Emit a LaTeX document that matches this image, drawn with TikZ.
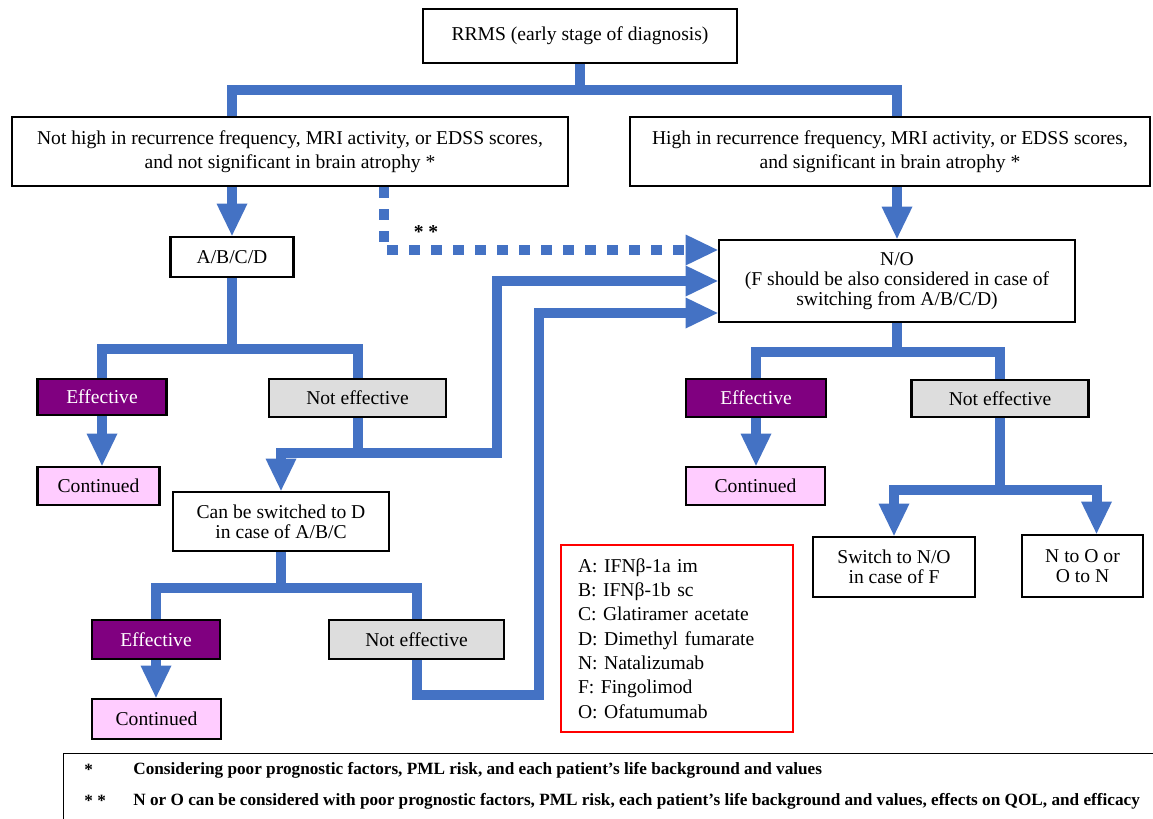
\documentclass[tikz,border=0pt]{standalone}
\usepackage{fontspec}
\setmainfont{Liberation Serif}
\frenchspacing
\usetikzlibrary{arrows.meta,calc}
\definecolor{flowc}{HTML}{4472C4}
\definecolor{effc}{HTML}{800080}
\definecolor{contc}{HTML}{FFCCFF}
\definecolor{nec}{HTML}{DDDDDD}
\tikzset{
  box/.style={draw, line width=1.4pt, fill=white, align=center, inner sep=0pt, font=\fontsize{9.8}{12}\selectfont},
  tight/.style={font=\fontsize{9.8}{9.9}\selectfont},
  effbox/.style={box, fill=effc, text=white},
  nebox/.style={box, fill=nec},
  contbox/.style={box, fill=contc},
  flow/.style={draw=flowc, line width=5pt},
  flowarr/.style={flow, -{Triangle[length=16pt, width=15.5pt, line width=0pt]}},
  flowdot/.style={flowarr, dash pattern=on 5.25pt off 5.75pt},
  note/.style={anchor=west, inner sep=0pt, font=\fontsize{8.6}{10}\selectfont\bfseries},
}

\begin{document}
\begin{tikzpicture}[x=0.5pt, y=-0.5pt]
  \useasboundingbox (0,0) rectangle (1153,819);
  \clip (0,0) rectangle (1153,819);
  % top of the tree
  \node[box, minimum width=157pt, minimum height=27pt] (rrms) at (580,36) {RRMS (early stage of diagnosis)};
  \node[box, minimum width=278pt, minimum height=34.5pt] (low) at (290,151.5)
    {Not high in recurrence frequency, MRI activity, or EDSS scores,\\and not significant in brain atrophy *};
  \node[box, minimum width=260pt, minimum height=34.5pt] (high) at (890,151.5)
    {High in recurrence frequency, MRI activity, or EDSS scores,\\and significant in brain atrophy *};
  \node[box, minimum width=61.5pt, minimum height=20pt] (abcd) at (232,257) {A/B/C/D};
  \node[box, tight, minimum width=178pt, minimum height=41pt] (no) at (897,281)
    {N/O\\(F should be also considered in case of\\switching from A/B/C/D)};
  % left side
  \node[effbox, minimum width=64.5pt, minimum height=18pt] (eff1) at (102,397) {Effective};
  \node[nebox, minimum width=88.5pt, minimum height=19pt] (ne1) at (357.5,398) {Not effective};
  \node[contbox, minimum width=61pt, minimum height=19pt] (cont1) at (98.5,486) {Continued};
  \node[box, tight, minimum width=108pt, minimum height=29.5pt] (swD) at (281,521.5) {Can be switched to D\\in case of A/B/C};
  \node[effbox, minimum width=64pt, minimum height=19.5pt] (eff2) at (156,639.5) {Effective};
  \node[nebox, minimum width=87.5pt, minimum height=19.5pt] (ne2) at (416.5,639.5) {Not effective};
  \node[contbox, minimum width=64.5pt, minimum height=20pt] (cont2) at (156.5,719) {Continued};
  % right side
  \node[effbox, minimum width=70pt, minimum height=19pt] (eff3) at (756,398) {Effective};
  \node[nebox, minimum width=88.5pt, minimum height=18.5pt] (ne3) at (1000,398.5) {Not effective};
  \node[contbox, minimum width=69.5pt, minimum height=19pt] (cont3) at (755.5,486) {Continued};
  \node[box, tight, minimum width=81pt, minimum height=30pt] (swNO) at (894,567) {Switch to N/O\\in case of F};
  \node[box, tight, minimum width=60.5pt, minimum height=31pt] (nto) at (1082.5,566) {N to O or\\O to N};
  % legend
  \node[draw=red, line width=0.9pt, align=left, inner xsep=8.5pt, text width=99pt, minimum height=93.5pt,
        font=\fontsize{9.8}{12.15}\selectfont] (legend) at (677,638.5)
    {A: IFNβ-1a im\\B: IFNβ-1b sc\\C: Glatiramer acetate\\D: Dimethyl fumarate\\N: Natalizumab\\F: Fingolimod\\O: Ofatumumab};
  % notes
  \node[draw, line width=0.6pt, anchor=north west, minimum width=560pt, minimum height=45pt] (notes) at (63,753) {};
  \node[note] (s1) at (84,770) {*};
  \node[note] (t1) at (133,770) {Considering poor prognostic factors, PML risk, and each patient’s life background and values};
  \node[note] (s2) at (84,801) {* *};
  \node[note] (t2) at (133,801) {N or O can be considered with poor prognostic factors, PML risk, each patient’s life background and values, effects on QOL, and efficacy};

  % connectors
  \draw[flow] (rrms.south) -- ++(0,26) coordinate (j0);
  \draw[flow] (j0) -| (low.north -| abcd.north);
  \draw[flow] (j0) -| (high.north -| no.north);
  \draw[flowarr] (low.south -| abcd.north) -- (abcd.north);
  \draw[flowarr] (high.south -| no.north) -- (no.north);
  \draw[flowdot] ($(low.south)+(94,0)$) |- ($(no.west)+(0,-31)$)
    node[pos=0.563, above, text=black, font=\fontsize{9.8}{12}\selectfont\bfseries] (dstar) {* *};

  \draw[flow] (abcd.south) -- ++(0,71) coordinate (j1);
  \draw[flow] (j1) -| (eff1.north);
  \draw[flow] (j1) -| (ne1.north);
  \draw[flowarr] (eff1.south) -- (eff1.south |- cont1.north);
  \draw[flow] (ne1.south) -- ++(0,35) coordinate (j2);
  \draw[flowarr] (j2) -| (swD.north);
  \draw[flowarr] (j2) -| ($(no.west)+(-221,0)$) -- (no.west);

  \draw[flow] (swD.south) -- ++(0,36) coordinate (j3);
  \draw[flow] (j3) -| (eff2.north);
  \draw[flow] (j3) -| (ne2.north);
  \draw[flowarr] (eff2.south) -- (eff2.south |- cont2.north);
  \draw[flowarr] (ne2.south) -- ++(0,35) -| ($(no.west)+(-179,32)$) -- ($(no.west)+(0,32)$);

  \draw[flow] (no.south) -- ++(0,29) coordinate (j4);
  \draw[flow] (j4) -| (eff3.north);
  \draw[flow] (j4) -| (ne3.north);
  \draw[flowarr] (eff3.south) -- (eff3.south |- cont3.north);
  \draw[flow] (ne3.south) -- ++(0,72) coordinate (j5);
  \draw[flowarr] (j5) -| (swNO.north);
  \draw[flowarr] (j5) -| ($(nto.north)+(14,0)$);
\end{tikzpicture}
\end{document}
